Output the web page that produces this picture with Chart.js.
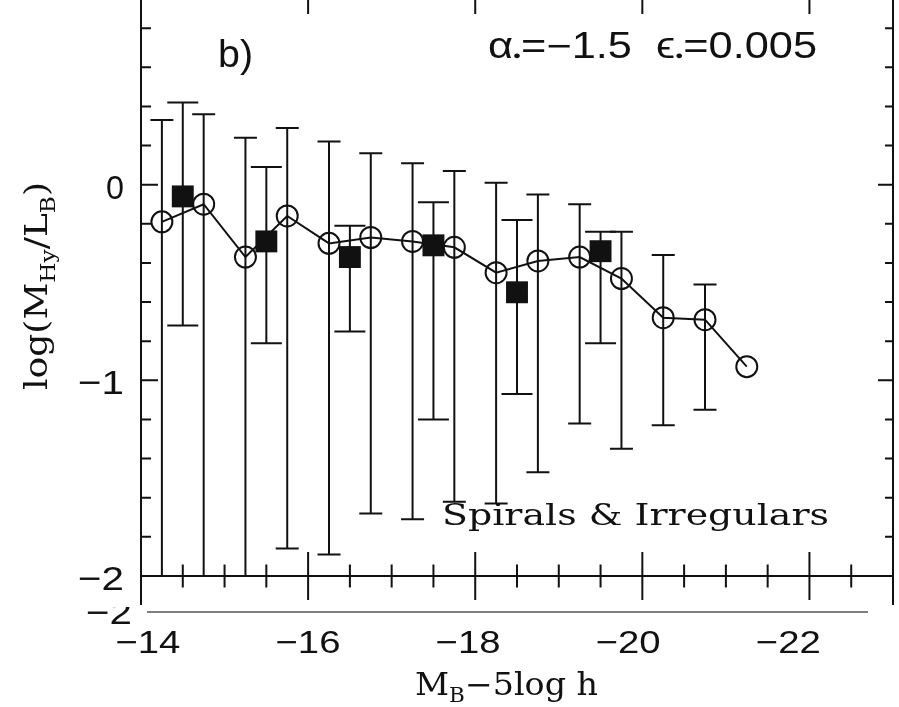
<!DOCTYPE html>
<html>
<head>
<meta charset="utf-8">
<script src="https://cdn.jsdelivr.net/npm/chart.js@4/dist/chart.umd.min.js"></script>
<style>
  html, body { margin: 0; padding: 0; background: #fff; overflow: hidden; }
  #wrap { position: absolute; left: 0; top: -11px; width: 899px; height: 718px; }
</style>
</head>
<body>
<div id="wrap"><canvas id="grafica" width="899" height="718"></canvas></div>
<script>
// datos: circulos abiertos (unidos por linea)
var circMag = [-14.25, -14.75, -15.25, -15.75, -16.25, -16.75, -17.25, -17.75, -18.25, -18.75, -19.25, -19.75, -20.25, -20.75, -21.25];
var circVal = [-0.19, -0.10, -0.37, -0.16, -0.30, -0.27, -0.29, -0.32, -0.45, -0.39, -0.37, -0.48, -0.68, -0.69, -0.93];
var circHi  = [0.33, 0.36, 0.24, 0.29, 0.22, 0.16, 0.11, 0.07, 0.01, -0.05, -0.10, -0.24, -0.36, -0.51, null];
var circLo  = [-2.3, -2.3, -2.3, -1.86, -1.89, -1.68, -1.71, -1.62, -1.63, -1.47, -1.22, -1.35, -1.23, -1.15, null];

// cuadrados rellenos
var sqMag = [-14.5, -15.5, -16.5, -17.5, -18.5, -19.5];
var sqVal = [-0.06, -0.29, -0.37, -0.31, -0.55, -0.34];
var sqHi  = [0.42, 0.09, -0.21, -0.09, -0.18, -0.24];
var sqLo  = [-0.72, -0.81, -0.75, -1.20, -1.07, -0.81];

// marcas de los ejes
var xTicks = [-14, -16, -18, -20, -22];
var xTickLabels = ['\u221214', '\u221216', '\u221218', '\u221220', '\u221222'];
var yTicks = [0, -1, -2];
var yTickLabels = ['0', '\u22121', '\u22122'];

var OFF = 11; // el lienzo empieza 11px arriba de la pagina
var INK = '#111';
var SANS = '"Liberation Sans", "DejaVu Sans", sans-serif';
var SERIF = '"DejaVu Serif", "Liberation Serif", serif';

function puntos(xs, ys) {
    var out = [];
    for (var i = 0; i < xs.length; i++) out.push({x: xs[i], y: ys[i]});
    return out;
}

// texto con partes (subindices) ajustado a un ancho
function textoRico(ctx, partes, x, y, ancho, alinear) {
    ctx.textAlign = 'left';
    ctx.textBaseline = 'alphabetic';
    var total = 0;
    partes.forEach(function (p) { ctx.font = p[1]; total += ctx.measureText(p[0]).width; });
    var k = ancho ? ancho / total : 1;
    ctx.save();
    ctx.translate(x, y);
    ctx.scale(k, 1);
    var cx = alinear === 'center' ? -total / 2 : (alinear === 'right' ? -total : 0);
    partes.forEach(function (p) {
        ctx.font = p[1];
        ctx.fillText(p[0], cx, p[2] || 0);
        cx += ctx.measureText(p[0]).width;
    });
    ctx.restore();
}

var barrasError = {
    id: 'barrasError',
    beforeDatasetsDraw: function (chart) {
        var ctx = chart.ctx, xs = chart.scales.x, ys = chart.scales.y, a = chart.chartArea;
        ctx.save();
        ctx.beginPath();
        ctx.rect(a.left, a.top, a.right - a.left, a.bottom - a.top);
        ctx.clip();
        ctx.strokeStyle = INK;
        ctx.lineWidth = 2;
        function barras(mag, hi, lo, media) {
            for (var i = 0; i < mag.length; i++) {
                if (hi[i] === null) continue;
                var px = xs.getPixelForValue(mag[i]);
                var yh = ys.getPixelForValue(hi[i]);
                var yl = ys.getPixelForValue(lo[i]);
                ctx.beginPath();
                ctx.moveTo(px, yh); ctx.lineTo(px, yl);
                ctx.moveTo(px - media, yh); ctx.lineTo(px + media, yh);
                ctx.moveTo(px - media, yl); ctx.lineTo(px + media, yl);
                ctx.stroke();
            }
        }
        barras(circMag, circHi, circLo, 11.5);
        barras(sqMag, sqHi, sqLo, 15.5);
        ctx.restore();
    }
};

var marco = {
    id: 'marco',
    afterDraw: function (chart) {
        var ctx = chart.ctx, xs = chart.scales.x, ys = chart.scales.y, a = chart.chartArea;
        ctx.save();
        ctx.strokeStyle = INK;
        ctx.fillStyle = INK;
        ctx.lineWidth = 2;
        // marco
        ctx.beginPath();
        ctx.moveTo(a.left, a.top); ctx.lineTo(a.right, a.top);
        ctx.moveTo(a.left, a.top); ctx.lineTo(a.left, 605 + OFF);
        ctx.moveTo(a.right, a.top); ctx.lineTo(a.right, 605 + OFF);
        ctx.moveTo(a.left, a.bottom); ctx.lineTo(a.right, a.bottom);
        ctx.stroke();
        // marcas x (abajo cruzan el eje, arriba hacia dentro)
        ctx.beginPath();
        for (var v = -14; v >= -23; v -= 0.5) {
            var px = xs.getPixelForValue(v);
            var mayor = (v % 2 === 0);
            var L = mayor ? 24 : 11.5;
            ctx.moveTo(px, a.bottom - L); ctx.lineTo(px, a.bottom + L);
            ctx.moveTo(px, a.top); ctx.lineTo(px, a.top + (mayor ? 25 : 11));
        }
        // marcas y
        for (var k = 0; k <= 15; k++) {
            var val = -2 + k * 0.2;
            var py = ys.getPixelForValue(val);
            var may = Math.abs(val - Math.round(val)) < 1e-6;
            ctx.moveTo(a.left, py); ctx.lineTo(a.left + (may ? 17 : 10), py);
            ctx.moveTo(a.right, py); ctx.lineTo(a.right - (may ? 15 : 8), py);
        }
        ctx.stroke();
        // linea gris del escaneo
        ctx.strokeStyle = '#555';
        ctx.lineWidth = 1.5;
        ctx.beginPath();
        ctx.moveTo(147, 612 + OFF); ctx.lineTo(868, 612 + OFF);
        ctx.stroke();

        // etiquetas de x (la franja inferior esta un poco comprimida)
        for (var i = 0; i < xTicks.length; i++) {
            var tx = 12.8 + 0.958 * xs.getPixelForValue(xTicks[i]);
            textoRico(ctx, [[xTickLabels[i], '32px ' + SANS]], tx, 653 + OFF, 65, 'center');
        }
        // etiquetas de y
        for (var j = 0; j < yTicks.length; j++) {
            var ty = ys.getPixelForValue(yTicks[j]) + 14;
            var w = yTickLabels[j].length > 1 ? 46 : 18;
            textoRico(ctx, [[yTickLabels[j], '34px ' + SANS]], 124, ty, w, 'right');
        }
        // "-2" recortado debajo
        ctx.save();
        ctx.beginPath();
        ctx.rect(60, 607 + OFF, 80, 30);
        ctx.clip();
        textoRico(ctx, [['\u22122', '34px ' + SANS]], 132, 624 + OFF, 46, 'right');
        ctx.restore();

        // titulos de ejes
        textoRico(ctx, [['M', '31px ' + SERIF], ['B', '20px ' + SERIF, 7], ['\u22125log h', '31px ' + SERIF]],
            415, 695 + OFF, 183, 'left');
        ctx.save();
        ctx.translate(47, 286 + OFF);
        ctx.rotate(-Math.PI / 2);
        textoRico(ctx, [['log(M', '31px ' + SERIF], ['Hy', '20px ' + SERIF, 8], ['/L', '31px ' + SERIF],
            ['B', '20px ' + SERIF, 8], [')', '31px ' + SERIF]], 0, 0, 208, 'center');
        ctx.restore();

        // anotaciones
        textoRico(ctx, [['b)', '38px ' + SANS]], 218, 67 + OFF, 35, 'left');
        textoRico(ctx, [['\u03b1', '36px ' + SANS], ['\u25cf', '11px ' + SANS, 1], ['=\u22121.5  ', '36px ' + SANS],
            ['\u03f5', '36px ' + SANS], ['\u25cf', '11px ' + SANS, 1], ['=0.005', '36px ' + SANS]],
            488, 58 + OFF, 329, 'left');
        textoRico(ctx, [['Spirals & Irregulars', '30px ' + SERIF]], 442, 525 + OFF, 387, 'left');
        ctx.restore();
    }
};

var ctx = document.getElementById('grafica').getContext('2d');
var miGrafico = new Chart(ctx, {
    type: 'scatter',
    data: {
        datasets: [
            {
                label: 'circulos',
                data: puntos(circMag, circVal),
                showLine: true,
                borderColor: INK,
                borderWidth: 2,
                pointStyle: 'circle',
                pointRadius: 10.5,
                pointBorderWidth: 2,
                pointBorderColor: INK,
                pointBackgroundColor: 'rgba(0,0,0,0)'
            },
            {
                label: 'cuadrados',
                data: puntos(sqMag, sqVal),
                showLine: false,
                pointStyle: 'rect',
                pointRadius: 15.5,
                pointBorderWidth: 0,
                pointBackgroundColor: INK,
                pointBorderColor: INK
            }
        ]
    },
    options: {
        responsive: false,
        animation: false,
        devicePixelRatio: 1,
        layout: { autoPadding: false, padding: { left: 141, right: 6, top: 0, bottom: 131 } },
        plugins: { legend: { display: false }, tooltip: { enabled: false } },
        scales: {
            x: { type: 'linear', min: -23, max: -14, reverse: true, display: false },
            y: { type: 'linear', min: -2, max: 1, display: false }
        }
    },
    plugins: [barrasError, marco]
});
</script>
</body>
</html>
